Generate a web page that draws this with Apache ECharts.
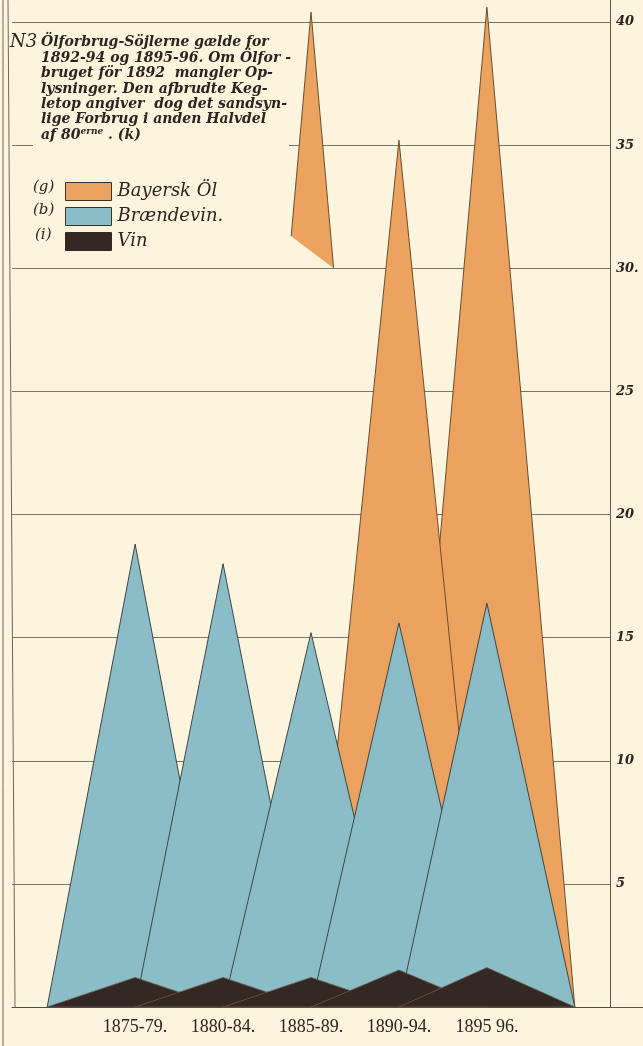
<!DOCTYPE html>
<html>
<head>
<meta charset="utf-8">
<script src="https://cdn.jsdelivr.net/npm/echarts@6/dist/echarts.min.js"></script>
<style>
html,body{margin:0;padding:0;background:#FCF4DC;}
#c{width:643px;height:1046px;}
</style>
</head>
<body>
<div id="c"></div>
<script>
// ---- data ----
const periods = ['1875-79.', '1880-84.', '1885-89.', '1890-94.', '1895 96.'];
const braendevin = [18.8, 18.0, 15.2, 15.6, 16.4];
const vin = [1.2, 1.2, 1.2, 1.5, 1.6];
const bayerskOl = [null, null, null, 35.2, 40.6];
const bayerskOlEstimate = [null, null, 40.4, null, null];
const estimateCut = [31.3, 30.0];
const yTickValues = [0, 5, 10, 15, 20, 25, 30, 35, 40];
const yTickLabels = ['', '5', '10', '15', '20', '25', '30.', '35', '40'];

// ---- styles ----
const PAPER = '#FCF4DC';
const ORANGE = '#ECA35F';
const ORANGE_LINE = '#6b4d2e';
const BLUE = '#8BBDC7';
const BLUE_LINE = '#3e4446';
const BLACK = '#342822';
const BLACK_LINE = '#6a5b50';
const INK = '#2a2520';
const GRID = '#7a756a';
const SERIF = '"DejaVu Serif", "Liberation Serif", serif';
const TSERIF = '"Liberation Serif", "DejaVu Serif", serif';

function toCones(arr) {
  return arr.map((v, i) => v == null ? null : [i + 1, v]).filter(Boolean);
}

function coneRenderer(fill, stroke, lw, reverse) {
  return function (params, api) {
    const c = api.value(0), v = api.value(1);
    const pts = [api.coord([c - 1, 0]), api.coord([c, v]), api.coord([c + 1, 0])];
    return {
      type: 'polygon',
      z2: reverse ? 20 - params.dataIndex : params.dataIndex,
      shape: { points: pts },
      style: { fill: fill, stroke: stroke, lineWidth: lw }
    };
  };
}

function brokenTop(params, api) {
  const c = api.value(0), v = api.value(1), cl = api.value(2), cr = api.value(3);
  const top = api.coord([c, v]);
  const bl = api.coord([c - 1 + cl / v, cl]);
  const br = api.coord([c + 1 - cr / v, cr]);
  return {
    type: 'group',
    children: [
      { type: 'polygon', shape: { points: [bl, top, br] }, style: { fill: ORANGE } },
      { type: 'polyline', shape: { points: [bl, top, br] }, style: { fill: null, stroke: ORANGE_LINE, lineWidth: 1 } }
    ]
  };
}

const estimateData = bayerskOlEstimate
  .map((v, i) => v == null ? null : [i + 1, v, estimateCut[0], estimateCut[1]])
  .filter(Boolean);

const chart = echarts.init(document.getElementById('c'), null, { renderer: 'canvas' });

const option = {
  animation: false,
  backgroundColor: PAPER,
  grid: { left: 12, right: 33, top: 22, bottom: 39, containLabel: false },
  xAxis: {
    type: 'value',
    min: -0.4,
    max: 6.4,
    splitLine: { show: false },
    axisTick: { show: false },
    axisLine: { show: true, onZero: false, lineStyle: { color: '#4d4a44', width: 1 } },
    axisLabel: {
      customValues: [1, 2, 3, 4, 5],
      formatter: v => periods[Math.round(v) - 1] || '',
      color: INK,
      fontFamily: TSERIF,
      fontSize: 18,
      margin: 11
    }
  },
  yAxis: {
    type: 'value',
    position: 'right',
    min: 0,
    max: 40,
    interval: 5,
    axisLine: { show: true, onZero: false, lineStyle: { color: '#5a564e', width: 1 } },
    axisTick: { show: false },
    splitLine: { show: true, lineStyle: { color: GRID, width: 1 } },
    axisLabel: {
      formatter: v => yTickLabels[yTickValues.indexOf(v)] || '',
      color: INK,
      fontFamily: SERIF,
      fontStyle: 'italic',
      fontWeight: 'bold',
      fontSize: 13,
      margin: 6
    }
  },
  legend: {
    orient: 'vertical',
    left: 60,
    top: 177,
    itemWidth: 46,
    itemHeight: 18,
    itemGap: 6,
    selectedMode: false,
    icon: 'rect',
    data: [
      { name: 'Bayersk Öl', itemStyle: { color: ORANGE, borderColor: '#3a332c', borderWidth: 1 } },
      { name: 'Brændevin', itemStyle: { color: BLUE, borderColor: '#3a332c', borderWidth: 1 } },
      { name: 'Vin', itemStyle: { color: BLACK, borderColor: BLACK, borderWidth: 1 } }
    ],
    formatter: n => n === 'Brændevin' ? 'Brændevin.' : n,
    textStyle: {
      color: INK,
      fontFamily: SERIF,
      fontStyle: 'italic',
      fontSize: 18,
      lineHeight: 18,
      padding: [0, 0, 0, 1]
    }
  },
  series: [
    {
      name: 'Bayersk Öl (anslået)',
      type: 'custom',
      z: 2,
      renderItem: brokenTop,
      itemStyle: { color: ORANGE },
      data: estimateData
    },
    {
      name: 'Bayersk Öl',
      type: 'custom',
      z: 3,
      renderItem: coneRenderer(ORANGE, ORANGE_LINE, 1, true),
      itemStyle: { color: ORANGE },
      data: toCones(bayerskOl)
    },
    {
      name: 'Brændevin',
      type: 'custom',
      z: 4,
      renderItem: coneRenderer(BLUE, BLUE_LINE, 1, false),
      itemStyle: { color: BLUE },
      data: toCones(braendevin)
    },
    {
      name: 'Vin',
      type: 'custom',
      z: 5,
      renderItem: coneRenderer(BLACK, BLACK_LINE, 0.8, false),
      itemStyle: { color: BLACK },
      data: toCones(vin)
    }
  ],
  graphic: [
    // frame lines
    { type: 'line', z: 50, shape: { x1: 3, y1: 0, x2: 3, y2: 1046 }, style: { stroke: '#6d685e', lineWidth: 1 } },
    { type: 'line', z: 50, shape: { x1: 8, y1: 0, x2: 15, y2: 1008 }, style: { stroke: '#6d685e', lineWidth: 1 } },
    { type: 'line', z: 50, shape: { x1: 610.5, y1: 0, x2: 610.5, y2: 22 }, style: { stroke: '#5a564e', lineWidth: 1 } },
    { type: 'line', z: 50, shape: { x1: 610, y1: 1007.5, x2: 643, y2: 1007.5 }, style: { stroke: '#5a564e', lineWidth: 1 } },
    // note box
    { type: 'rect', z: 60, shape: { x: 33, y: 29, width: 256, height: 122 }, style: { fill: PAPER } },
    {
      type: 'text', z: 61, left: 10, top: 33,
      style: { text: 'N3', fill: INK, font: 'italic 18px ' + SERIF }
    },
    {
      type: 'text', z: 61, left: 41, top: 35,
      style: {
        text: 'Ölforbrug-Söjlerne gælde for\n1892-94 og 1895-96. Om Ölfor -\nbruget för 1892  mangler Op-\nlysninger. Den afbrudte Keg-\nletop angiver  dog det sandsyn-\nlige Forbrug i anden Halvdel\naf 80{sup|erne} . (k)',
        fill: INK,
        font: 'italic bold 14px ' + SERIF,
        lineHeight: 15.4,
        rich: {
          sup: { fontSize: 9, fontStyle: 'italic', fontWeight: 'bold', fontFamily: SERIF, fill: INK, padding: [0, 0, 6, 0] }
        }
      }
    },
    { type: 'text', z: 61, left: 33, top: 180, style: { text: '(g)', fill: INK, font: 'italic 15px ' + SERIF } },
    { type: 'text', z: 61, left: 33, top: 203, style: { text: '(b)', fill: INK, font: 'italic 15px ' + SERIF } },
    { type: 'text', z: 61, left: 35, top: 228, style: { text: '(i)', fill: INK, font: 'italic 15px ' + SERIF } }
  ]
};

chart.setOption(option);
</script>
</body>
</html>
